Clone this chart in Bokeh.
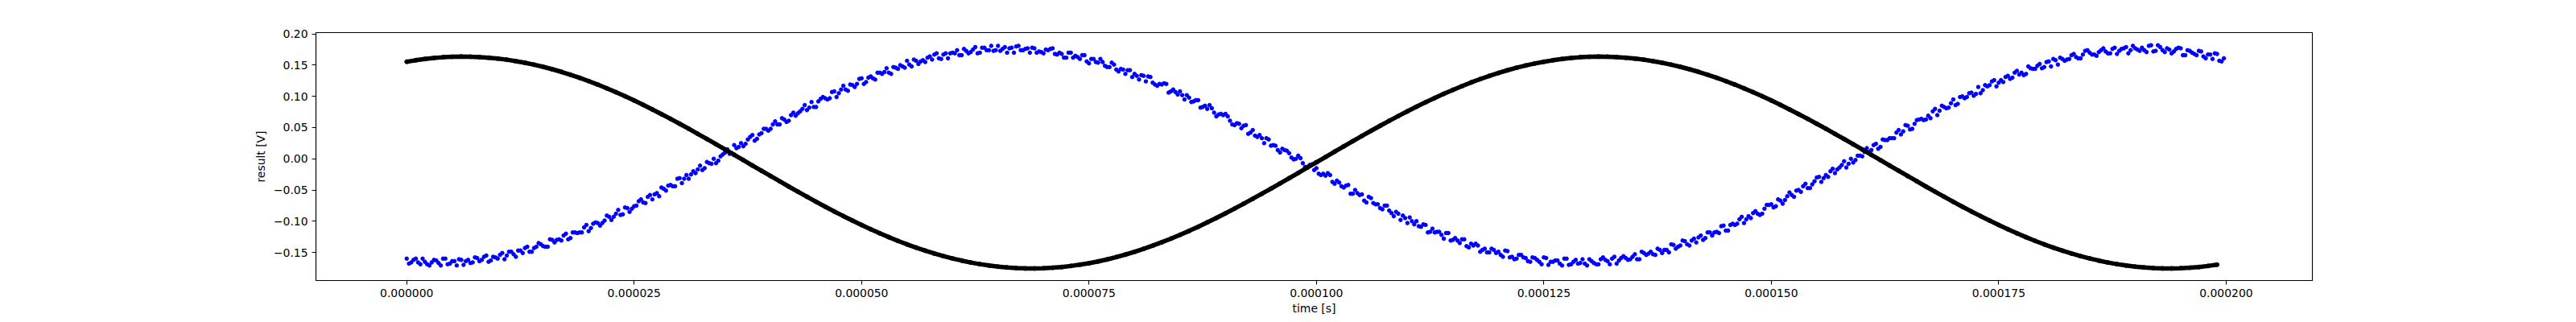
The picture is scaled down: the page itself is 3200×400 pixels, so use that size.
import numpy as np
from bokeh.plotting import figure
from bokeh.models import Range1d, FixedTicker, CustomJSTickFormatter
from bokeh.embed import file_html
from bokeh.resources import INLINE

# measured signals read off the scope plot
# blue trace: two interleaved sample sets, each every 0.5 us (set b shifted by 0.25 us)
# black trace: every 1 us
dt_blue = 0.5e-6
dt_black = 1.0e-6

result_blue_a = [
    -0.160, -0.166, -0.160, -0.169, -0.165, -0.171, -0.162, -0.167, -0.160, -0.169, -0.164, -0.171, -0.162, -0.164, -0.167, -0.158, -0.164, -0.157, -0.165, -0.157,
    -0.160, -0.151, -0.155, -0.149, -0.157, -0.147, -0.143, -0.149, -0.143, -0.135, -0.140, -0.141, -0.130, -0.130, -0.131, -0.120, -0.127, -0.118, -0.118, -0.110,
    -0.116, -0.104, -0.103, -0.103, -0.091, -0.098, -0.088, -0.090, -0.078, -0.085, -0.076, -0.068, -0.070, -0.061, -0.065, -0.055, -0.046, -0.051, -0.042, -0.044,
    -0.031, -0.032, -0.032, -0.020, -0.017, -0.018, -0.005, -0.008, -0.007, 0.004, 0.010, 0.008, 0.022, 0.019, 0.020, 0.031, 0.038, 0.032, 0.041, 0.048,
    0.048, 0.060, 0.055, 0.063, 0.061, 0.074, 0.073, 0.080, 0.078, 0.091, 0.083, 0.096, 0.097, 0.097, 0.108, 0.105, 0.117, 0.109, 0.118, 0.120,
    0.129, 0.123, 0.132, 0.127, 0.138, 0.139, 0.138, 0.147, 0.144, 0.148, 0.157, 0.148, 0.157, 0.156, 0.155, 0.164, 0.167, 0.161, 0.167, 0.161,
    0.170, 0.174, 0.166, 0.173, 0.171, 0.179, 0.170, 0.178, 0.174, 0.173, 0.181, 0.176, 0.170, 0.178, 0.180, 0.174, 0.176, 0.170, 0.177, 0.172,
    0.169, 0.174, 0.177, 0.167, 0.168, 0.162, 0.170, 0.165, 0.160, 0.166, 0.153, 0.160, 0.154, 0.155, 0.147, 0.154, 0.143, 0.144, 0.136, 0.142,
    0.136, 0.127, 0.133, 0.132, 0.122, 0.117, 0.119, 0.120, 0.108, 0.107, 0.108, 0.095, 0.098, 0.092, 0.094, 0.083, 0.080, 0.081, 0.068, 0.072,
    0.072, 0.061, 0.054, 0.056, 0.053, 0.040, 0.046, 0.035, 0.033, 0.033, 0.021, 0.021, 0.010, 0.014, 0.009, -0.001, 0.005, -0.007, -0.013, -0.009,
    -0.015, -0.026, -0.027, -0.026, -0.040, -0.038, -0.046, -0.042, -0.056, -0.055, -0.057, -0.070, -0.063, -0.073, -0.079, -0.075, -0.083, -0.092, -0.088, -0.091,
    -0.103, -0.100, -0.100, -0.109, -0.106, -0.117, -0.118, -0.117, -0.128, -0.119, -0.130, -0.131, -0.129, -0.140, -0.136, -0.136, -0.149, -0.144, -0.150, -0.146,
    -0.149, -0.157, -0.148, -0.157, -0.160, -0.154, -0.159, -0.165, -0.159, -0.165, -0.158, -0.170, -0.165, -0.163, -0.171, -0.160, -0.169, -0.162, -0.167, -0.168,
    -0.161, -0.167, -0.169, -0.158, -0.164, -0.160, -0.168, -0.159, -0.159, -0.161, -0.153, -0.161, -0.151, -0.152, -0.153, -0.144, -0.151, -0.146, -0.137, -0.144,
    -0.139, -0.132, -0.139, -0.128, -0.126, -0.130, -0.118, -0.123, -0.117, -0.108, -0.115, -0.106, -0.106, -0.097, -0.103, -0.092, -0.087, -0.088, -0.088, -0.074,
    -0.073, -0.076, -0.067, -0.066, -0.054, -0.061, -0.050, -0.044, -0.047, -0.041, -0.030, -0.037, -0.026, -0.020, -0.023, -0.014, -0.004, -0.008, -0.006, 0.005,
    0.004, 0.017, 0.014, 0.024, 0.019, 0.030, 0.033, 0.033, 0.046, 0.044, 0.053, 0.048, 0.062, 0.064, 0.063, 0.065, 0.080, 0.077, 0.083, 0.082,
    0.095, 0.088, 0.100, 0.099, 0.106, 0.104, 0.105, 0.118, 0.118, 0.126, 0.122, 0.123, 0.133, 0.130, 0.141, 0.138, 0.136, 0.145, 0.144, 0.152,
    0.147, 0.156, 0.160, 0.151, 0.160, 0.159, 0.166, 0.163, 0.161, 0.173, 0.170, 0.167, 0.171, 0.177, 0.169, 0.176, 0.168, 0.176, 0.179, 0.174,
    0.177, 0.173, 0.174, 0.181, 0.172, 0.182, 0.174, 0.177, 0.169, 0.176, 0.177, 0.166, 0.173, 0.168, 0.173, 0.164, 0.167, 0.160, 0.168, 0.156,
]

result_blue_b = [
    -0.168, -0.162, -0.166, -0.160, -0.169, -0.166, -0.163, -0.171, -0.160, -0.168, -0.164, -0.161, -0.170, -0.162, -0.166, -0.159, -0.162, -0.155, -0.163, -0.158,
    -0.154, -0.161, -0.149, -0.153, -0.147, -0.151, -0.141, -0.149, -0.141, -0.137, -0.141, -0.129, -0.134, -0.129, -0.123, -0.129, -0.118, -0.119, -0.118, -0.106,
    -0.111, -0.102, -0.107, -0.099, -0.093, -0.093, -0.082, -0.089, -0.079, -0.080, -0.075, -0.065, -0.071, -0.058, -0.057, -0.060, -0.048, -0.043, -0.044, -0.032,
    -0.039, -0.026, -0.025, -0.023, -0.011, -0.015, -0.007, 0.000, -0.003, 0.007, 0.015, 0.009, 0.017, 0.025, 0.024, 0.035, 0.029, 0.039, 0.048, 0.045,
    0.055, 0.055, 0.065, 0.059, 0.070, 0.069, 0.076, 0.086, 0.082, 0.083, 0.092, 0.099, 0.095, 0.107, 0.099, 0.111, 0.111, 0.119, 0.115, 0.128,
    0.120, 0.130, 0.129, 0.138, 0.136, 0.145, 0.136, 0.146, 0.150, 0.146, 0.151, 0.159, 0.152, 0.158, 0.162, 0.159, 0.169, 0.160, 0.169, 0.169,
    0.169, 0.166, 0.176, 0.169, 0.175, 0.169, 0.178, 0.174, 0.181, 0.174, 0.173, 0.179, 0.177, 0.170, 0.181, 0.174, 0.177, 0.178, 0.170, 0.171,
    0.175, 0.176, 0.168, 0.170, 0.162, 0.170, 0.162, 0.163, 0.166, 0.156, 0.160, 0.155, 0.160, 0.149, 0.147, 0.151, 0.140, 0.143, 0.142, 0.131,
    0.133, 0.134, 0.124, 0.131, 0.119, 0.120, 0.121, 0.106, 0.111, 0.103, 0.102, 0.102, 0.091, 0.094, 0.082, 0.085, 0.086, 0.074, 0.071, 0.070,
    0.068, 0.055, 0.057, 0.049, 0.054, 0.042, 0.037, 0.038, 0.025, 0.031, 0.022, 0.014, 0.016, 0.013, 0.002, 0.000, 0.001, -0.013, -0.010, -0.018,
    -0.024, -0.024, -0.023, -0.037, -0.035, -0.044, -0.043, -0.056, -0.050, -0.058, -0.067, -0.061, -0.071, -0.073, -0.081, -0.075, -0.087, -0.085, -0.098, -0.095,
    -0.094, -0.105, -0.108, -0.105, -0.118, -0.112, -0.117, -0.122, -0.119, -0.131, -0.127, -0.135, -0.129, -0.142, -0.139, -0.139, -0.146, -0.150, -0.144, -0.151,
    -0.154, -0.147, -0.158, -0.161, -0.154, -0.158, -0.164, -0.158, -0.162, -0.169, -0.159, -0.165, -0.163, -0.168, -0.160, -0.170, -0.165, -0.168, -0.161, -0.171,
    -0.164, -0.169, -0.161, -0.162, -0.169, -0.157, -0.163, -0.156, -0.162, -0.157, -0.161, -0.149, -0.154, -0.149, -0.154, -0.146, -0.146, -0.150, -0.138, -0.141,
    -0.131, -0.137, -0.131, -0.134, -0.123, -0.127, -0.118, -0.118, -0.119, -0.107, -0.115, -0.104, -0.104, -0.093, -0.097, -0.095, -0.084, -0.090, -0.080, -0.074,
    -0.078, -0.065, -0.072, -0.060, -0.058, -0.051, -0.053, -0.040, -0.047, -0.036, -0.029, -0.031, -0.029, -0.016, -0.017, -0.010, -0.014, 0.000, -0.002, 0.005,
    0.011, 0.011, 0.022, 0.016, 0.031, 0.030, 0.033, 0.042, 0.039, 0.054, 0.047, 0.056, 0.063, 0.062, 0.069, 0.076, 0.070, 0.085, 0.081, 0.089,
    0.086, 0.099, 0.097, 0.105, 0.101, 0.115, 0.110, 0.116, 0.124, 0.116, 0.126, 0.131, 0.128, 0.138, 0.135, 0.134, 0.148, 0.144, 0.149, 0.145,
    0.155, 0.148, 0.158, 0.162, 0.157, 0.160, 0.168, 0.161, 0.167, 0.174, 0.167, 0.165, 0.174, 0.172, 0.169, 0.178, 0.173, 0.177, 0.169, 0.181,
    0.175, 0.178, 0.171, 0.182, 0.173, 0.179, 0.171, 0.175, 0.172, 0.178, 0.166, 0.174, 0.170, 0.166, 0.172, 0.161, 0.167, 0.169, 0.157, 0.161,
]

result_black = [
    0.1555, 0.1579, 0.1599, 0.1615, 0.1627, 0.1634, 0.1637, 0.1636, 0.1630, 0.1620,
    0.1606, 0.1588, 0.1565, 0.1539, 0.1508, 0.1474, 0.1435, 0.1393, 0.1347, 0.1298,
    0.1245, 0.1189, 0.1129, 0.1067, 0.1002, 0.0934, 0.0864, 0.0791, 0.0716, 0.0640,
    0.0561, 0.0481, 0.0399, 0.0317, 0.0233, 0.0149, 0.0064, -0.0021, -0.0107, -0.0192,
    -0.0277, -0.0361, -0.0445, -0.0527, -0.0608, -0.0689, -0.0767, -0.0844, -0.0918, -0.0991,
    -0.1061, -0.1128, -0.1194, -0.1256, -0.1315, -0.1371, -0.1423, -0.1472, -0.1518, -0.1560,
    -0.1597, -0.1631, -0.1662, -0.1688, -0.1710, -0.1728, -0.1741, -0.1751, -0.1756, -0.1757,
    -0.1753, -0.1746, -0.1734, -0.1717, -0.1697, -0.1673, -0.1644, -0.1612, -0.1575, -0.1535,
    -0.1491, -0.1443, -0.1392, -0.1337, -0.1280, -0.1219, -0.1156, -0.1090, -0.1019, -0.0948,
    -0.0874, -0.0798, -0.0720, -0.0641, -0.0560, -0.0478, -0.0395, -0.0311, -0.0226, -0.0141,
    -0.0056, 0.0029, 0.0114, 0.0199, 0.0283, 0.0366, 0.0448, 0.0529, 0.0608, 0.0685,
    0.0761, 0.0835, 0.0906, 0.0975, 0.1041, 0.1104, 0.1165, 0.1223, 0.1277, 0.1328,
    0.1375, 0.1419, 0.1459, 0.1495, 0.1527,
    0.1555, 0.1579, 0.1599, 0.1615, 0.1627, 0.1634, 0.1637, 0.1636, 0.1630, 0.1620,
    0.1606, 0.1588, 0.1565, 0.1539, 0.1508, 0.1474, 0.1435, 0.1393, 0.1347, 0.1298,
    0.1245, 0.1189, 0.1129, 0.1067, 0.1002, 0.0934, 0.0864, 0.0791, 0.0716, 0.0640,
    0.0561, 0.0481, 0.0399, 0.0317, 0.0233, 0.0149, 0.0064, -0.0021, -0.0107, -0.0192,
    -0.0277, -0.0361, -0.0445, -0.0527, -0.0608, -0.0689, -0.0767, -0.0844, -0.0918, -0.0991,
    -0.1061, -0.1128, -0.1194, -0.1256, -0.1315, -0.1371, -0.1423, -0.1472, -0.1518, -0.1560,
    -0.1597, -0.1631, -0.1662, -0.1688, -0.1710, -0.1728, -0.1741, -0.1751, -0.1756, -0.1757,
    -0.1753, -0.1746, -0.1734, -0.1717, -0.1697,
]

time_blue_a = np.arange(len(result_blue_a)) * dt_blue
time_blue_b = np.arange(len(result_blue_b)) * dt_blue + dt_blue / 2
time_black = np.arange(len(result_black)) * dt_black

x_ticks = [0.0, 0.000025, 0.00005, 0.000075, 0.0001, 0.000125, 0.00015, 0.000175, 0.0002]
y_ticks = [-0.15, -0.10, -0.05, 0.0, 0.05, 0.10, 0.15, 0.20]

FONT = "DejaVu Sans"
FSIZE = "13.9px"

p = figure(
    frame_width=2480,
    frame_height=308,
    x_range=Range1d(-0.000009975, 0.000209475),
    y_range=Range1d(-0.1951, 0.2022),
    min_border_left=392,
    min_border_right=312,
    min_border_top=40,
    min_border_bottom=44,
    output_backend="svg",
    toolbar_location=None,
    background_fill_color="white",
    border_fill_color="white",
)

p.outline_line_color = "black"
p.outline_line_width = 1.1
p.xgrid.visible = False
p.ygrid.visible = False

p.xaxis.ticker = FixedTicker(ticks=x_ticks)
p.yaxis.ticker = FixedTicker(ticks=y_ticks)
p.xaxis.formatter = CustomJSTickFormatter(code="return tick.toFixed(6);")
p.yaxis.formatter = CustomJSTickFormatter(
    code="return tick.toFixed(2).replace('-', '\u2212');")

for ax in (p.xaxis, p.yaxis):
    ax.axis_line_color = "black"
    ax.axis_line_width = 1.1
    ax.major_tick_line_color = "black"
    ax.major_tick_line_width = 1.1
    ax.major_tick_out = 5
    ax.major_tick_in = 0
    ax.minor_tick_line_color = None
    ax.major_label_text_font = FONT
    ax.major_label_text_font_size = FSIZE
    ax.major_label_text_color = "black"
    ax.major_label_standoff = 5
    ax.axis_label_text_font = FONT
    ax.axis_label_text_font_size = FSIZE
    ax.axis_label_text_font_style = "normal"
    ax.axis_label_text_color = "black"

p.xaxis.axis_label = "time [s]"
p.yaxis.axis_label = "result [V]"
p.xaxis.axis_label_standoff = 3
p.yaxis.axis_label_standoff = 5

p.scatter(time_blue_a, result_blue_a, size=4.5, color="blue")
p.scatter(time_blue_b, result_blue_b, size=4.5, color="blue")
p.line(time_black, result_black, line_width=5.5, color="black")
p.scatter(time_black, result_black, size=5, color="black")

open("out.html", "w").write(file_html(p, INLINE))
